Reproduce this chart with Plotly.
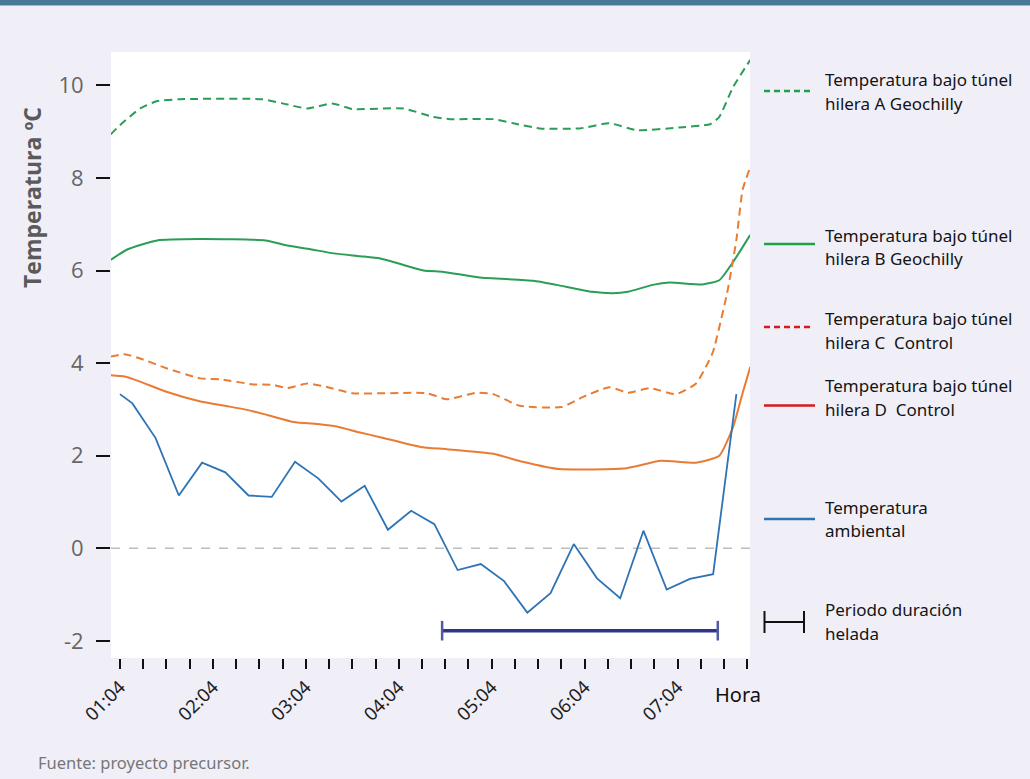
import plotly.graph_objects as go

# ---------------- data ----------------
def hm(s):
    h, m = s.split(":")
    return int(h) * 60 + int(m)

# Ambient temperature (blue)
amb_time = ["01:04", "01:12", "01:27", "01:42", "01:57", "02:12", "02:27", "02:42",
            "02:57", "03:12", "03:27", "03:42", "03:57", "04:12", "04:27", "04:42",
            "04:57", "05:12", "05:27", "05:42", "05:57", "06:12", "06:27", "06:42",
            "06:57", "07:12", "07:27", "07:42"]
amb_val = [3.33, 3.13, 2.38, 1.14, 1.85, 1.64, 1.14, 1.11,
           1.87, 1.51, 1.01, 1.35, 0.40, 0.81, 0.52, -0.47,
           -0.34, -0.71, -1.39, -0.97, 0.09, -0.65, -1.08, 0.38,
           -0.89, -0.66, -0.56, 3.33]

# Row A Geochilly (green dashed)
a_min = [58, 64, 77, 88, 103, 156, 169, 185, 201, 214, 247, 266, 277, 305, 318,
         335, 361, 380, 398, 425, 445, 451, 460, 471]
a_val = [8.94, 9.14, 9.50, 9.66, 9.70, 9.70, 9.61, 9.50, 9.61, 9.49, 9.50, 9.32,
         9.27, 9.27, 9.18, 9.07, 9.07, 9.18, 9.03, 9.09, 9.16, 9.32, 9.97, 10.55]

# Row B Geochilly (green solid)
b_min = [58, 69, 88, 115, 158, 172, 187, 202, 219, 232, 245, 260, 273, 296, 331,
         346, 369, 382, 392, 408, 419, 440, 451, 460, 471]
b_val = [6.23, 6.46, 6.65, 6.68, 6.65, 6.54, 6.46, 6.37, 6.31, 6.26, 6.14, 6.00,
         5.97, 5.85, 5.78, 5.69, 5.54, 5.51, 5.54, 5.69, 5.74, 5.70, 5.79, 6.19, 6.77]

# Row C Control (orange dashed)
c_min = [58, 67, 77, 94, 116, 129, 150, 163, 172, 185, 197, 214, 262, 275, 294,
         305, 322, 349, 363, 380, 392, 406, 423, 436, 444, 447, 456, 462, 466, 471]
c_val = [4.14, 4.19, 4.10, 3.89, 3.67, 3.65, 3.54, 3.53, 3.46, 3.56, 3.49, 3.35,
         3.35, 3.22, 3.36, 3.33, 3.08, 3.05, 3.27, 3.48, 3.36, 3.46, 3.33, 3.56,
         4.03, 4.25, 5.51, 6.66, 7.74, 8.24]

# Row D Control (orange solid)
d_min = [58, 67, 77, 94, 116, 135, 146, 159, 176, 193, 204, 219, 232, 258, 275,
         305, 324, 348, 391, 413, 436, 451, 460, 466, 471]
d_val = [3.74, 3.71, 3.60, 3.38, 3.17, 3.06, 2.99, 2.88, 2.73, 2.68, 2.63, 2.50,
         2.40, 2.19, 2.14, 2.04, 1.87, 1.71, 1.73, 1.89, 1.85, 2.00, 2.63, 3.35, 3.92]

# Frost period
frost_start, frost_end, frost_level = "04:32", "07:30", -1.78

# x ticks (every 15 minutes, labels on the hour marks)
tick_times = ["01:04", "01:19", "01:34", "01:49", "02:04", "02:19", "02:34", "02:49",
              "03:04", "03:19", "03:34", "03:49", "04:04", "04:19", "04:34", "04:49",
              "05:04", "05:19", "05:34", "05:49", "06:04", "06:19", "06:34", "06:49",
              "07:04", "07:19", "07:34", "07:49"]
tick_labels = ["01:04", "", "", "", "02:04", "", "", "", "03:04", "", "", "",
               "04:04", "", "", "", "05:04", "", "", "", "06:04", "", "", "",
               "07:04", "", "", ""]
y_ticks = [-2, 0, 2, 4, 6, 8, 10]

legend_labels = [
    ("Temperatura bajo túnel", "hilera A Geochilly"),
    ("Temperatura bajo túnel", "hilera B Geochilly"),
    ("Temperatura bajo túnel", "hilera C  Control"),
    ("Temperatura bajo túnel", "hilera D  Control"),
    ("Temperatura", "ambiental"),
    ("Periodo duración", "helada"),
]

# ---------------- styling ----------------
GREEN = "#2a9d57"
ORANGE = "#e97c35"
BLUE = "#2e73b3"
NAVY = "#2f3488"
BG = "#f0eff8"
DASH = "8px,5px"

W, H = 1030, 779
L, R, T, B = 111, 280, 52, 121
PW, PH = W - L - R, H - T - B

def px(x):
    return (x - L) / PW

def py(y):
    return (H - B - y) / PH

fig = go.Figure()

fig.add_trace(go.Scatter(x=a_min, y=a_val, mode="lines",
                         line=dict(color=GREEN, width=2, dash=DASH, shape="spline", smoothing=0.5)))
fig.add_trace(go.Scatter(x=b_min, y=b_val, mode="lines",
                         line=dict(color=GREEN, width=2, shape="spline", smoothing=0.5)))
fig.add_trace(go.Scatter(x=c_min, y=c_val, mode="lines",
                         line=dict(color=ORANGE, width=2, dash=DASH, shape="spline", smoothing=0.5)))
fig.add_trace(go.Scatter(x=d_min, y=d_val, mode="lines",
                         line=dict(color=ORANGE, width=2, shape="spline", smoothing=0.5)))
fig.add_trace(go.Scatter(x=[hm(t) for t in amb_time], y=amb_val, mode="lines",
                         line=dict(color=BLUE, width=1.8)))
fig.add_trace(go.Scatter(x=[hm(frost_start), hm(frost_end)], y=[frost_level, frost_level],
                         mode="lines+markers",
                         line=dict(color=NAVY, width=3.5),
                         marker=dict(symbol="line-ns", size=14,
                                     line=dict(color="#545aa0", width=2.5))))

shapes = []
# zero reference line
shapes.append(dict(type="line", xref="paper", yref="y", x0=0, x1=1, y0=0, y1=0,
                   line=dict(color="#bdbdbd", width=1.5, dash="dash"), layer="below"))
# top band
shapes.append(dict(type="rect", xref="paper", yref="paper", x0=px(0), x1=px(W),
                   y0=py(5), y1=py(0), line=dict(width=0), fillcolor="#487893"))
shapes.append(dict(type="line", xref="paper", yref="paper", x0=px(0), x1=px(W),
                   y0=py(5.5), y1=py(5.5), line=dict(color="#9fb7c8", width=1)))

# custom legend
leg_line_y = [91, 244, 327, 405.5, 519, 622]
leg_text_y = [(79, 103.5), (235, 258), (319, 342.5), (385.5, 409.5), (507, 530.5), (609.5, 633)]
leg_styles = [
    dict(color="#1fa14a", dash="6px,4px"),
    dict(color="#1fa14a", dash="solid"),
    dict(color="#d7191c", dash="6px,4px"),
    dict(color="#d7191c", dash="solid"),
    dict(color=BLUE, dash="solid"),
]
for i, st in enumerate(leg_styles):
    yy = py(leg_line_y[i])
    shapes.append(dict(type="line", xref="paper", yref="paper", x0=px(764),
                       x1=px(815 if st["dash"] == "solid" else 812), y0=yy, y1=yy,
                       line=dict(color=st["color"], width=2.5, dash=st["dash"])))
# frost legend symbol
fy = py(622)
shapes.append(dict(type="line", xref="paper", yref="paper", x0=px(764), x1=px(804),
                   y0=fy, y1=fy, line=dict(color="#111", width=2)))
for xx in (764.5, 804):
    shapes.append(dict(type="line", xref="paper", yref="paper", x0=px(xx), x1=px(xx),
                       y0=py(611), y1=py(633), line=dict(color="#111", width=2)))

annotations = []
for (l1, l2), (y1, y2) in zip(legend_labels, leg_text_y):
    for txt, yy in ((l1, y1), (l2, y2)):
        annotations.append(dict(text=txt, xref="paper", yref="paper", x=px(823), y=py(yy),
                                xanchor="left", yanchor="middle", showarrow=False,
                                font=dict(family="Noto Sans", size=17, color="#141414")))

annotations.append(dict(text="<b>Temperatura ºC</b>", xref="paper", yref="paper",
                        x=px(32), y=py(198), textangle=-90, showarrow=False,
                        xanchor="center", yanchor="middle",
                        font=dict(family="Open Sans", size=23, color="#5a5a5a")))
annotations.append(dict(text="Hora", xref="paper", yref="paper", x=px(713), y=py(694),
                        xanchor="left", yanchor="middle", showarrow=False,
                        font=dict(family="Noto Sans", size=20, color="#111")))
annotations.append(dict(text="Fuente: proyecto precursor.", xref="paper", yref="paper",
                        x=px(36), y=py(762), xanchor="left", yanchor="middle", showarrow=False,
                        font=dict(family="Noto Sans", size=16.5, color="#767676")))

fig.update_layout(
    width=W, height=H,
    margin=dict(l=L, r=R, t=T, b=B, pad=0),
    paper_bgcolor=BG, plot_bgcolor="white",
    showlegend=False,
    shapes=shapes, annotations=annotations,
    xaxis=dict(range=[58.2, 470.8], tickmode="array",
               tickvals=[hm(t) for t in tick_times], ticktext=tick_labels,
               tickangle=-45, ticks="outside", ticklen=10, tickwidth=1.5, tickcolor="#111",
               showgrid=False, zeroline=False, showline=False,
               tickfont=dict(family="Noto Sans", size=18.5, color="#1e1e1e")),
    yaxis=dict(range=[-2.37, 10.72], tickmode="array", tickvals=y_ticks,
               ticktext=[str(v) for v in y_ticks],
               ticks="outside", ticklen=14, tickwidth=2, tickcolor="#111",
               ticklabelstandoff=8,
               showgrid=False, zeroline=False, showline=False,
               tickfont=dict(family="Open Sans", size=22, color="#666666")),
)

fig.write_html("out.html", config={"displayModeBar": False},
               post_script="document.body.style.margin='0';document.body.style.overflow='hidden';")
